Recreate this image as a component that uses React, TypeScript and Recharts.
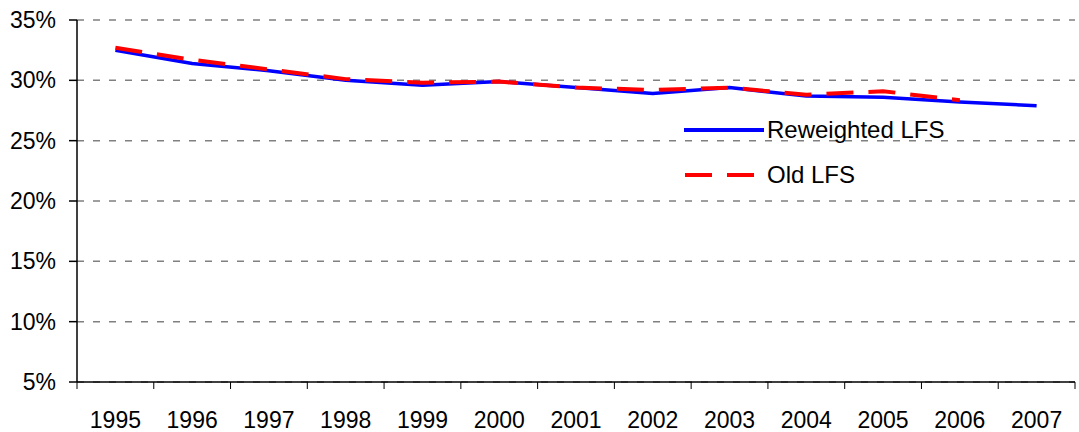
import React from "react";
import {
  CartesianGrid,
  Legend,
  Line,
  LineChart,
  XAxis,
  YAxis,
} from "recharts";

const years = ["1995", "1996", "1997", "1998", "1999", "2000", "2001", "2002", "2003", "2004", "2005", "2006", "2007"];
const reweightedLFS = [32.5, 31.4, 30.8, 30.0, 29.6, 29.9, 29.4, 28.9, 29.4, 28.7, 28.6, 28.2, 27.9];
const oldLFS = [32.7, 31.7, 30.9, 30.1, 29.8, 29.9, 29.4, 29.2, 29.4, 28.8, 29.1, 28.35, null];
const yTicks = [5, 10, 15, 20, 25, 30, 35];

const data = years.map((year, i) => ({
  year,
  reweighted: reweightedLFS[i],
  old: oldLFS[i],
}));

const FONT = '"Liberation Sans", Arial, sans-serif';

// Excel-style category axis: tick marks between categories, label in the middle
const YearTick = (props: any) => {
  const { x, y, payload, index } = props;
  const half = payload && payload.offset ? payload.offset : 38.4;
  const last = index === years.length - 1;
  return (
    <g>
      <line x1={x - half} x2={x - half} y1={y - 7} y2={y} stroke="#000" strokeWidth={1} />
      {last && <line x1={x + half} x2={x + half} y1={y - 7} y2={y} stroke="#000" strokeWidth={1} />}
      <text x={x} y={y + 38.5} textAnchor="middle" fontSize={23} fontFamily={FONT} fill="#000">
        {payload.value}
      </text>
    </g>
  );
};

const LegendBox = () => (
  <div style={{ fontFamily: FONT, fontSize: 24, color: "#000" }}>
    <div style={{ display: "flex", alignItems: "center", height: 45 }}>
      <svg width={84} height={8}>
        <line x1={1} x2={81} y1={4} y2={4} stroke="#0000ff" strokeWidth={4} />
      </svg>
      <span style={{ lineHeight: "24px" }}>Reweighted LFS</span>
    </div>
    <div style={{ display: "flex", alignItems: "center", height: 45 }}>
      <svg width={84} height={8}>
        <line x1={2} x2={72} y1={4} y2={4} stroke="#ff0000" strokeWidth={4} strokeDasharray="27 15" />
      </svg>
      <span style={{ lineHeight: "24px" }}>Old LFS</span>
    </div>
  </div>
);

export default function App() {
  return (
    <div style={{ position: "absolute", left: 0, top: 0, width: 1079, height: 432, background: "#fff", fontFamily: FONT }}>
      <LineChart width={1079} height={432} data={data} margin={{ top: 20, right: 4, left: 0, bottom: 0 }}>
        <CartesianGrid vertical={false} stroke="#808080" strokeWidth={1.5} strokeDasharray="7 9" />
        <XAxis
          dataKey="year"
          scale="band"
          height={50}
          axisLine={{ stroke: "#000", strokeWidth: 1.5 }}
          tickLine={false}
          tickSize={7}
          tickMargin={0}
          interval={0}
          tick={<YearTick />}
        />
        <YAxis
          type="number"
          domain={[5, 35]}
          ticks={yTicks}
          interval={0}
          width={77}
          tickSize={8}
          tickMargin={13}
          axisLine={{ stroke: "#000", strokeWidth: 1.5 }}
          tickLine={{ stroke: "#000", strokeWidth: 1.5 }}
          tickFormatter={(v: number) => `${v}%`}
          tick={{ fill: "#000", fontSize: 23, fontFamily: FONT }}
        />
        <Legend
          layout="vertical"
          align="center"
          verticalAlign="middle"
          content={<LegendBox />}
          wrapperStyle={{ left: 683, top: 107, width: 300, height: 90 }}
        />
        <Line
          dataKey="reweighted"
          name="Reweighted LFS"
          type="linear"
          stroke="#0000ff"
          strokeWidth={3.5}
          dot={false}
          isAnimationActive={false}
        />
        <Line
          dataKey="old"
          name="Old LFS"
          type="linear"
          stroke="#ff0000"
          strokeWidth={4}
          strokeDasharray="27 15"
          dot={false}
          isAnimationActive={false}
        />
      </LineChart>
    </div>
  );
}
